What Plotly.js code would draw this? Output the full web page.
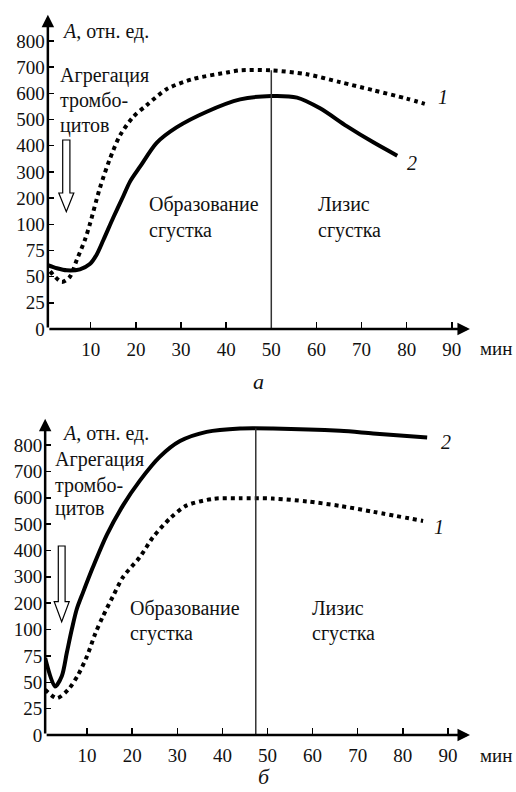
<!DOCTYPE html>
<html>
<head>
<meta charset="utf-8">
<script src="https://cdn.plot.ly/plotly-3.0.1.min.js"></script>
<style>
html,body{margin:0;padding:0;background:#fff;}
#chart{width:516px;height:792px;}
</style>
</head>
<body>
<div id="chart"></div>
<script>
// ---- data ----
// panel "а"
const timeA_dotted = [1.0, 3.6, 5.4, 6.9, 8.7, 9.8, 12.0, 14.2, 16.5, 19.4, 22.4, 26.9, 32.7, 40.2, 43.1, 50, 57.9, 65.2, 72.6, 80, 84.0];
const valA_dotted  = [55, 45, 50, 66, 85, 100, 237, 348, 440, 510, 555, 617, 655, 680, 688, 688, 673, 643, 612, 580, 560];
const timeA_solid  = [0.5, 2.5, 4.7, 7.6, 9.8, 11.3, 12.8, 15, 17.2, 18.7, 21, 24.6, 29, 35.7, 43.1, 50, 55.7, 60.8, 66.7, 72.6, 77.9];
const valA_solid   = [61, 58, 56, 57, 62, 71, 85, 126, 207, 263, 322, 411, 470, 530, 577, 590, 584, 543, 475, 413, 362];
const lysisStartA  = 50;
// panel "б"
const timeB_dotted = [0.7, 3.3, 5.8, 8, 10, 11.8, 13.5, 15.7, 18, 21.7, 24.6, 28.4, 32, 38, 43.9, 51.2, 58.8, 66.1, 73.4, 84.5];
const valB_dotted  = [43, 35, 43, 57, 75, 96, 150, 225, 300, 375, 450, 522, 570, 596, 598, 597, 586, 569, 547, 512];
const timeB_solid  = [0.7, 2.9, 4.4, 5.5, 6.6, 7.7, 9.1, 11.3, 14.4, 18, 21.7, 26.1, 30.6, 36.5, 43.9, 51.2, 66.1, 73.4, 85.4];
const valB_solid   = [73, 46, 56, 78, 100, 177, 241, 337, 460, 572, 665, 755, 815, 850, 863, 863, 854, 844, 829];
const lysisStartB  = 47.4;

const yTickLabels = [0, 25, 50, 75, 100, 200, 300, 400, 500, 600, 700, 800];
const xTickLabels = [10, 20, 30, 40, 50, 60, 70, 80, 90];

// the printed value axis is piecewise: 25 per step up to 100, then 100 per step
const yIdx = v => v <= 100 ? v / 25 : 4 + (v - 100) / 100;

// ---- geometry helpers ----
const W = 516, H = 792;
const PX = x => x / W;
const PY = y => 1 - y / H;
const FONT = 'Liberation Serif';
const TXT = 20;

const lineSolid = {color: '#000', width: 4, shape: 'spline', smoothing: 0.8};
const lineDot = {color: '#000', width: 4, dash: 'dot', shape: 'spline', smoothing: 0.8};

const traces = [
  {x: timeA_dotted, y: valA_dotted.map(yIdx), mode: 'lines', line: lineDot, xaxis: 'x', yaxis: 'y'},
  {x: timeA_solid,  y: valA_solid.map(yIdx),  mode: 'lines', line: lineSolid, xaxis: 'x', yaxis: 'y'},
  {x: timeB_dotted, y: valB_dotted.map(yIdx), mode: 'lines', line: lineDot, xaxis: 'x2', yaxis: 'y2'},
  {x: timeB_solid,  y: valB_solid.map(yIdx),  mode: 'lines', line: lineSolid, xaxis: 'x2', yaxis: 'y2'}
];

// panel pixel frames
const A = {x0: 45.6, k: 4.514, xr: [0.5, 94.0], yAxis: 329, ky: 26.18, yr: [0, 12.5]};
const B = {x0: 42.0, k: 4.51, xr: [0.7, 94.9], yAxis: 735, ky: 26.36, yr: [0, 12.5]};
function xDom(P) { return [PX(P.x0 + P.k * P.xr[0]), PX(P.x0 + P.k * P.xr[1])]; }
function yDom(P) { return [PY(P.yAxis), PY(P.yAxis - P.ky * P.yr[1])]; }

function xAxisCfg(P) {
  return {
    domain: xDom(P), range: P.xr, showgrid: false, zeroline: false, showline: false,
    tickvals: xTickLabels, ticktext: xTickLabels.map(String), ticks: 'inside', ticklen: 7,
    tickwidth: 1.5, tickcolor: '#000', ticklabelstandoff: 7,
    tickfont: {family: FONT, size: 19, color: '#111'}, fixedrange: true
  };
}
function yAxisCfg(P, anchor) {
  return {
    domain: yDom(P), range: P.yr, showgrid: false, zeroline: false, showline: false, anchor: anchor,
    tickvals: yTickLabels.map(yIdx), ticktext: yTickLabels.map(String), ticks: 'inside', ticklen: 6,
    tickwidth: 1.5, tickcolor: '#000', ticklabelstandoff: 2,
    tickfont: {family: FONT, size: 19, color: '#111'}, fixedrange: true
  };
}

function txt(text, x, y, opts) {
  return Object.assign({text: text, xref: 'paper', yref: 'paper', x: PX(x), y: PY(y),
    xanchor: 'left', yanchor: 'middle', showarrow: false,
    font: {family: FONT, size: TXT, color: '#111'}}, opts || {});
}
function axisArrow(xr, yr, x, y, ax, ay) {
  return {text: '', xref: xr, yref: yr, axref: xr, ayref: yr, x: x, y: y, ax: ax, ay: ay,
    showarrow: true, arrowhead: 2, arrowsize: 1, arrowwidth: 2.5, arrowcolor: '#000', standoff: 0, startstandoff: 0};
}
function hollowArrow(cx, top, headStart, tip, sh, hh) {
  const p = [[cx - sh, top], [cx + sh, top], [cx + sh, headStart], [cx + hh, headStart], [cx, tip],
             [cx - hh, headStart], [cx - sh, headStart]];
  return {type: 'path', xref: 'paper', yref: 'paper',
    path: 'M' + p.map(q => PX(q[0]).toFixed(5) + ',' + PY(q[1]).toFixed(5)).join(' L') + ' Z',
    line: {color: '#000', width: 1.2}, fillcolor: '#fff'};
}

const small = {font: {family: FONT, size: 19, color: '#111'}};
const capA = {xanchor: 'center', font: {family: FONT, size: 22, color: '#111'}};

const annotations = [
  // axes with arrowheads
  axisArrow('x', 'y', A.xr[0], 12.0, A.xr[0], 0),
  axisArrow('x', 'y', A.xr[1], 0, A.xr[0], 0),
  axisArrow('x2', 'y2', B.xr[0], 12.0, B.xr[0], 0),
  axisArrow('x2', 'y2', B.xr[1], 0, B.xr[0], 0),
  // panel а texts
  txt('<i>A</i>, отн. ед.', 60, 31),
  txt('Агрегация', 58, 76),
  txt('тромбо-', 58, 101),
  txt('цитов', 58, 126),
  txt('Образование', 147, 204),
  txt('сгустка', 147, 230),
  txt('Лизис', 316, 204),
  txt('сгустка', 316, 230),
  txt('<i>1</i>', 436, 97),
  txt('<i>2</i>', 405, 163),
  txt('мин', 478, 348, small),
  txt('<i>а</i>', 258, 381, capA),
  // panel б texts
  txt('<i>A</i>, отн. ед.', 60, 433),
  txt('Агрегация', 53, 459),
  txt('тромбо-', 53, 485),
  txt('цитов', 53, 509),
  txt('Образование', 128, 608),
  txt('сгустка', 128, 633),
  txt('Лизис', 310, 608),
  txt('сгустка', 310, 633),
  txt('<i>2</i>', 439, 442),
  txt('<i>1</i>', 432, 527),
  txt('мин', 478, 755, small),
  txt('<i>б</i>', 264, 776, capA)
];

const shapes = [
  {type: 'line', xref: 'x', yref: 'y', x0: lysisStartA, x1: lysisStartA, y0: 0, y1: yIdx(Math.max(...valA_dotted)),
   line: {color: '#333', width: 1.5}},
  {type: 'line', xref: 'x2', yref: 'y2', x0: lysisStartB, x1: lysisStartB, y0: 0, y1: yIdx(Math.max(...valB_solid)),
   line: {color: '#333', width: 1.5}},
  hollowArrow(66.3, 140, 193, 211.7, 3.6, 7.5),
  hollowArrow(61.7, 546, 601.7, 621.7, 3.4, 7.5)
];

const layout = {
  width: W, height: H, margin: {l: 0, r: 0, t: 0, b: 0},
  paper_bgcolor: '#fff', plot_bgcolor: 'rgba(0,0,0,0)', showlegend: false,
  font: {family: FONT},
  xaxis: xAxisCfg(A), yaxis: yAxisCfg(A, 'x'),
  xaxis2: Object.assign(xAxisCfg(B), {anchor: 'y2'}), yaxis2: yAxisCfg(B, 'x2'),
  annotations: annotations, shapes: shapes
};
layout.xaxis.anchor = 'y';

Plotly.newPlot('chart', traces, layout, {displayModeBar: false, staticPlot: true});
</script>
</body>
</html>
